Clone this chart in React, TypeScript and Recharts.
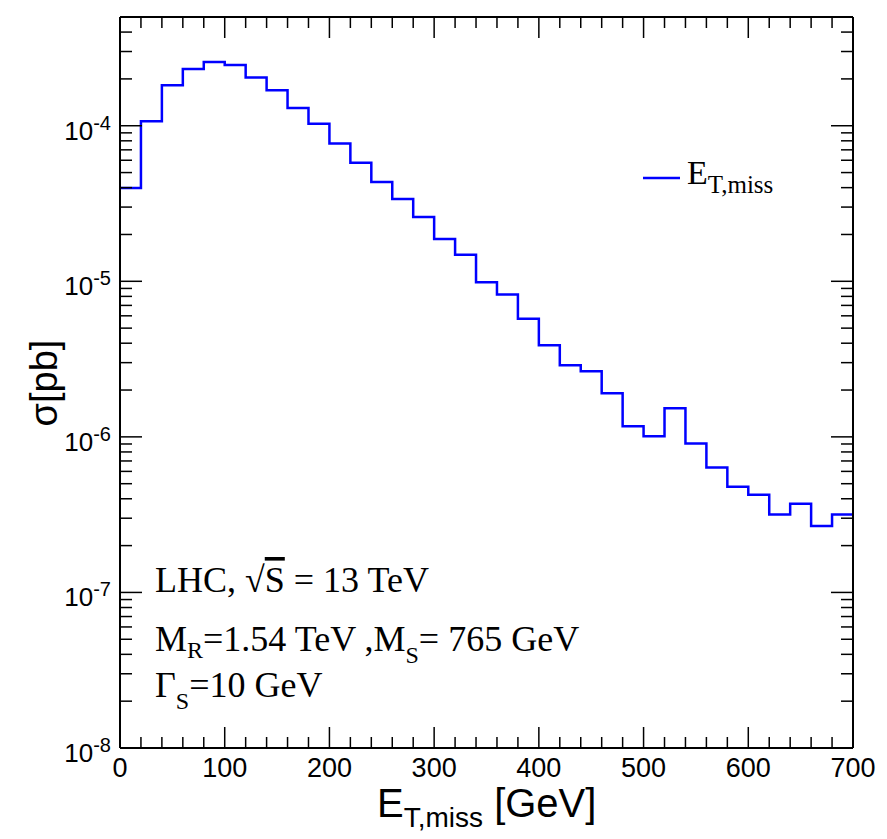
import React from 'react';
import { LineChart, Line, XAxis, YAxis, Legend } from 'recharts';

// lower bin edges [GeV], 20 GeV bins
const binEdges = [
  0, 20, 40, 60, 80, 100, 120, 140, 160, 180, 200, 220, 240, 260, 280, 300, 320,
  340, 360, 380, 400, 420, 440, 460, 480, 500, 520, 540, 560, 580, 600, 620, 640, 660, 680,
];
const xMax = 700;

// cross section per bin [pb]
const sigmaPb = [
  3.98e-5, 1.07e-4, 1.82e-4, 2.32e-4, 2.57e-4, 2.46e-4, 2.04e-4, 1.69e-4, 1.3e-4, 1.03e-4,
  7.7e-5, 5.78e-5, 4.35e-5, 3.38e-5, 2.59e-5, 1.87e-5, 1.48e-5, 9.86e-6, 8.22e-6, 5.75e-6,
  3.88e-6, 2.89e-6, 2.64e-6, 1.91e-6, 1.17e-6, 1.01e-6, 1.53e-6, 9.08e-7, 6.36e-7, 4.78e-7,
  4.25e-7, 3.17e-7, 3.72e-7, 2.67e-7, 3.17e-7,
];

const xTicks = [
  0, 20, 40, 60, 80, 100, 120, 140, 160, 180, 200, 220, 240, 260, 280, 300, 320, 340, 360,
  380, 400, 420, 440, 460, 480, 500, 520, 540, 560, 580, 600, 620, 640, 660, 680, 700,
];
const yDecades = [-8, -7, -6, -5, -4];
const yMantissas = [1, 2, 3, 4, 5, 6, 7, 8, 9];
const yTopMantissa = 5;

const yTicks: number[] = [];
yDecades.forEach((d) => {
  yMantissas.forEach((m) => {
    if (d === -4 && m > yTopMantissa) return;
    yTicks.push(m * Math.pow(10, d));
  });
});

const data = binEdges
  .map((e, i) => ({ e, s: sigmaPb[i] }))
  .concat([{ e: xMax, s: sigmaPb[sigmaPb.length - 1] }]);

const SANS = '"Liberation Sans", Arial, Helvetica, sans-serif';
const SERIF = '"Liberation Serif", "Times New Roman", serif';

const isDecade = (v: number) => Math.abs(Math.log10(v) - Math.round(Math.log10(v))) < 1e-6;

const BottomTick = (props: any) => {
  const { x, y, payload } = props;
  const major = payload.value % 100 === 0;
  return (
    <g>
      <line x1={x} y1={y} x2={x} y2={y - (major ? 21 : 11)} stroke="#000" strokeWidth={1.5} />
      {major && (
        <text x={x} y={y + 29} textAnchor="middle" fontFamily={SANS} fontSize={27} fill="#000">
          {payload.value}
        </text>
      )}
    </g>
  );
};

const TopTick = (props: any) => {
  const { x, y, payload } = props;
  const major = payload.value % 100 === 0;
  return <line x1={x} y1={y} x2={x} y2={y + (major ? 21 : 11)} stroke="#000" strokeWidth={1.5} />;
};

const LeftTick = (props: any) => {
  const { x, y, payload } = props;
  const major = isDecade(payload.value);
  const exp = Math.round(Math.log10(payload.value));
  return (
    <g>
      <line x1={x} y1={y} x2={x + (major ? 22 : 12)} y2={y} stroke="#000" strokeWidth={1.5} />
      {major && (
        <text x={x - 9} y={y + 14} textAnchor="end" fontFamily={SANS} fontSize={26} fill="#000">
          10
          <tspan fontSize={20} dy={-10}>
            {exp}
          </tspan>
        </text>
      )}
    </g>
  );
};

const RightTick = (props: any) => {
  const { x, y, payload } = props;
  const major = isDecade(payload.value);
  return <line x1={x} y1={y} x2={x - (major ? 22 : 12)} y2={y} stroke="#000" strokeWidth={1.5} />;
};

const LegendBox = () => (
  <svg width={220} height={60}>
    <line x1={13} y1={28} x2={50} y2={28} stroke="#0000ff" strokeWidth={2.5} />
    <text x={57} y={34} fontFamily={SERIF} fontSize={34} fill="#000">
      E
      <tspan fontSize={25} dy={9}>
        T,miss
      </tspan>
    </text>
  </svg>
);

const frame = { stroke: '#000', strokeWidth: 2 };

export default function App() {
  return (
    <div style={{ position: 'absolute', left: 0, top: 0, width: 887, height: 839, background: '#fff' }}>
      <LineChart width={887} height={839} data={data} margin={{ top: 16, right: 33, bottom: 90, left: 119 }}>
        <XAxis
          xAxisId="b"
          dataKey="e"
          type="number"
          domain={[0, xMax]}
          ticks={xTicks}
          interval={0}
          height={1}
          tickSize={0}
          tickMargin={0}
          tickLine={false}
          axisLine={frame}
          tick={(p: any) => <BottomTick {...p} />}
          allowDataOverflow
        />
        <XAxis
          xAxisId="t"
          orientation="top"
          dataKey="e"
          type="number"
          domain={[0, xMax]}
          ticks={xTicks}
          interval={0}
          height={1}
          tickSize={0}
          tickMargin={0}
          tickLine={false}
          axisLine={frame}
          tick={(p: any) => <TopTick {...p} />}
          allowDataOverflow
        />
        <YAxis
          yAxisId="l"
          type="number"
          scale="log"
          domain={[yTicks[0], yTicks[yTicks.length - 1]]}
          ticks={yTicks}
          interval={0}
          width={1}
          tickSize={0}
          tickMargin={0}
          tickLine={false}
          axisLine={frame}
          tick={(p: any) => <LeftTick {...p} />}
          allowDataOverflow
        />
        <YAxis
          yAxisId="r"
          orientation="right"
          type="number"
          scale="log"
          domain={[yTicks[0], yTicks[yTicks.length - 1]]}
          ticks={yTicks}
          interval={0}
          width={1}
          tickSize={0}
          tickMargin={0}
          tickLine={false}
          axisLine={frame}
          tick={(p: any) => <RightTick {...p} />}
          allowDataOverflow
        />
        <Legend
          layout="vertical"
          align="center"
          verticalAlign="middle"
          wrapperStyle={{ position: 'absolute', left: 630, top: 150, width: 220, height: 60 }}
          content={() => <LegendBox />}
        />
        <Line
          xAxisId="b"
          yAxisId="l"
          type="stepAfter"
          dataKey="s"
          stroke="#0000ff"
          strokeWidth={2.5}
          dot={false}
          isAnimationActive={false}
        />
      </LineChart>
      <svg
        width={887}
        height={839}
        style={{ position: 'absolute', left: 0, top: 0, pointerEvents: 'none' }}
      >
        <text x={155} y={592} fontFamily={SERIF} fontSize={36} fill="#000">
          LHC, √<tspan textDecoration="overline">S</tspan> = 13 TeV
        </text>
        <text x={155} y={651} fontFamily={SERIF} fontSize={36} fill="#000">
          M<tspan fontSize={24} dy={7}>R</tspan>
          <tspan dy={-7}>=1.54 TeV ,M</tspan>
          <tspan fontSize={24} dy={12}>S</tspan>
          <tspan dy={-12}>= 765 GeV</tspan>
        </text>
        <text x={155} y={697} fontFamily={SERIF} fontSize={36} fill="#000">
          Γ<tspan fontSize={24} dy={12}>S</tspan>
          <tspan dy={-12}>=10 GeV</tspan>
        </text>
        <text x={377} y={817} fontFamily={SANS} fontSize={40} fill="#000">
          E<tspan fontSize={28} dy={10}>T,miss</tspan>
          <tspan dy={-10}> [GeV]</tspan>
        </text>
        <text
          x={0}
          y={0}
          transform="translate(57,383) rotate(-90)"
          textAnchor="middle"
          fontFamily={SANS}
          fontSize={38}
          fill="#000"
        >
          σ[pb]
        </text>
      </svg>
    </div>
  );
}
